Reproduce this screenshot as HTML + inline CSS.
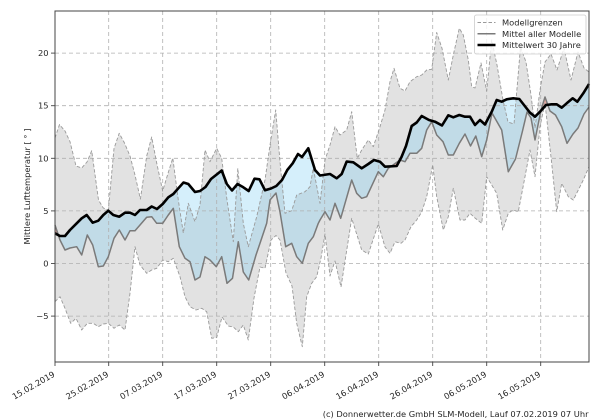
<!DOCTYPE html>
<html><head><meta charset="utf-8"><style>
html,body{margin:0;padding:0;background:#fff;}
svg{display:block;}
text{font-family:"DejaVu Sans","Liberation Sans",sans-serif;fill:#262626;}
</style></head><body>
<svg width="600" height="420" viewBox="0 0 600 420" xmlns="http://www.w3.org/2000/svg">
<defs>
<clipPath id="below"><polygon points="55,233.3 60,236 65,236 70,230 76.7,223.3 81.7,218.3 86.7,215 92.7,222.7 98.3,220.7 103.3,215 108.3,210.7 113.3,215 119.3,216.7 125,212.7 130,212.7 135,215 140,210 146.7,210 151.7,206.5 157,209 162.7,204 168.3,197.3 173.3,194 178.3,188.3 183.5,182.5 188.3,184 195,192 200,191 205.5,187 211,179 216.7,174.5 221.7,170.5 226.8,184 232,190.5 237.5,184 243.3,187.3 248.7,191 254.5,178.7 259.5,179.3 265,190.3 271,188.5 276.3,186 282,180 287.3,170 292.7,163.3 298,154 302,157 308.3,148.3 315,170 320,175.5 330,174 336.7,178.3 341.7,174 346.7,161.5 353.3,162.3 361.7,168.3 368.3,164 374,160 380,161.7 385,166.7 396.7,166 401.5,157 406,146 411.7,126 416.7,122.5 421.7,116 429,120 435,121.7 442,125.5 448.3,115.3 453.3,117.3 459.3,115 465,116.7 470,116.7 475,125 480,120 485,124.5 491.7,111.7 496.7,100 501.7,101.7 506.7,99.3 513.3,98.3 519.3,99 524,105 530,112.7 535,116.7 540,111.7 546,105 551.7,104.3 556.7,104.3 561.7,107.7 566.7,103.3 572.7,98.3 577.3,101.7 583.3,93.3 589,84 589,420 55,420"/></clipPath>
<clipPath id="above"><polygon points="55,233.3 60,236 65,236 70,230 76.7,223.3 81.7,218.3 86.7,215 92.7,222.7 98.3,220.7 103.3,215 108.3,210.7 113.3,215 119.3,216.7 125,212.7 130,212.7 135,215 140,210 146.7,210 151.7,206.5 157,209 162.7,204 168.3,197.3 173.3,194 178.3,188.3 183.5,182.5 188.3,184 195,192 200,191 205.5,187 211,179 216.7,174.5 221.7,170.5 226.8,184 232,190.5 237.5,184 243.3,187.3 248.7,191 254.5,178.7 259.5,179.3 265,190.3 271,188.5 276.3,186 282,180 287.3,170 292.7,163.3 298,154 302,157 308.3,148.3 315,170 320,175.5 330,174 336.7,178.3 341.7,174 346.7,161.5 353.3,162.3 361.7,168.3 368.3,164 374,160 380,161.7 385,166.7 396.7,166 401.5,157 406,146 411.7,126 416.7,122.5 421.7,116 429,120 435,121.7 442,125.5 448.3,115.3 453.3,117.3 459.3,115 465,116.7 470,116.7 475,125 480,120 485,124.5 491.7,111.7 496.7,100 501.7,101.7 506.7,99.3 513.3,98.3 519.3,99 524,105 530,112.7 535,116.7 540,111.7 546,105 551.7,104.3 556.7,104.3 561.7,107.7 566.7,103.3 572.7,98.3 577.3,101.7 583.3,93.3 589,84 589,0 55,0"/></clipPath>
<polygon id="bp" fill-rule="nonzero" points="55,233.3 60,236 65,236 70,230 76.7,223.3 81.7,218.3 86.7,215 92.7,222.7 98.3,220.7 103.3,215 108.3,210.7 113.3,215 119.3,216.7 125,212.7 130,212.7 135,215 140,210 146.7,210 151.7,206.5 157,209 162.7,204 168.3,197.3 173.3,194 178.3,188.3 183.5,182.5 188.3,184 195,192 200,191 205.5,187 211,179 216.7,174.5 221.7,170.5 226.8,184 232,190.5 237.5,184 243.3,187.3 248.7,191 254.5,178.7 259.5,179.3 265,190.3 271,188.5 276.3,186 282,180 287.3,170 292.7,163.3 298,154 302,157 308.3,148.3 315,170 320,175.5 330,174 336.7,178.3 341.7,174 346.7,161.5 353.3,162.3 361.7,168.3 368.3,164 374,160 380,161.7 385,166.7 396.7,166 401.5,157 406,146 411.7,126 416.7,122.5 421.7,116 429,120 435,121.7 442,125.5 448.3,115.3 453.3,117.3 459.3,115 465,116.7 470,116.7 475,125 480,120 485,124.5 491.7,111.7 496.7,100 501.7,101.7 506.7,99.3 513.3,98.3 519.3,99 524,105 530,112.7 535,116.7 540,111.7 546,105 551.7,104.3 556.7,104.3 561.7,107.7 566.7,103.3 572.7,98.3 577.3,101.7 583.3,93.3 589,84
589,107 584,114 578,128 573,134 567,143.3 561.7,126.7 555.5,115 550,111 545,97 541,110 535,140 531,118 527,112 522.5,131 515.5,159 508.3,171.7 501.7,130 492,113 486.7,140 481.7,156.7 475.8,136 470.5,146 465,134 459.3,143.3 453.3,155 448.3,155 443,141.7 436.7,135 431.7,121.7 426.7,130 421.7,148.3 416.7,153.3 410,153.3 405,161.7 400,160 388.3,168.3 383.3,176.7 378.3,171.7 366.7,196.7 361.7,198.3 356.7,193.3 351.7,180 340.7,218.3 335,203.3 330,220 325,211.7 320,220 318.3,223.3 313.3,236.7 308.3,243.3 302.3,263.3 296.7,256.7 291.7,243.3 285.7,246.7 280,212 276,193 270,200 266.7,223.3 260,243.3 256,255 248.7,280 243.3,272 238.3,241.7 232.5,278.3 227,283.3 221.7,256.7 216.3,266.7 210,260 205,256.7 200,277 195,280 190,261.7 185,258.3 179.3,246.7 173.3,208.3 168.3,215 162.7,223.3 156.7,223.3 151.7,216.7 146.7,217.3 140,225 135,230.7 130,230.7 125,240 119.3,230 114,238.3 108.3,256.7 103.3,266 98.3,266.7 92.7,245 87.3,235 81.7,255 76.7,246.7 70,248 65,250 60,240 55,225"/>
</defs>

<!-- grey model range -->
<polygon fill="#e2e2e2" points="55,138 59.5,124.5 65,131 70,141.7 76,166 81.7,168 87,162 91.7,150.7 98.5,200 103.3,208 108.3,210 114,148.5 119.2,133.3 124.5,143 130,156 135,175 140.4,199 146.7,156 151.7,137 156.7,163 162.7,191 167.5,175 172.8,158 178.3,200 183.3,233 188.3,203.3 195,221.7 200,205 205,150 210,161.7 216.7,148.3 221.7,158.3 227,200 233.3,241.7 237.8,168.3 243.3,223.3 248.3,246.7 256.7,216.7 265,180 270,145 275.7,110 280,161.7 285,213.3 291.7,210.7 296.7,195 305,191.7 310,186.7 313.3,168.3 320,203.3 325,160 330,145 335,126.7 340,135 346.7,130 351.7,111.7 357.3,158.3 361.7,150 368.3,140 373.3,146.7 380,126.7 385,110 390,81.7 394,68.3 400,88.3 405,91 410,81.7 416.7,76.7 421.7,75 426.7,70 431.7,69.3 436.7,32.5 442,48.3 448.3,80 453.3,55 459.3,28.3 463.3,35 468.3,60 471.7,86.7 475,88 481,63 486.7,91 491.7,40 497,65 503,100 508,122 514,124 520.5,47 526,62 531,95 535,128 540,90 545,62 551,54 557,70 564,48 571,80 578,52 584,68 589,72
589,166.7 583.3,180 578.3,190 573.3,200 568.3,196.7 561.7,183.3 556.7,211.7 551.7,163.3 545,103 540,126.7 535,176.7 530,150 525,176.7 518.3,211.7 513,210 508.3,213.3 502.7,230 496.7,193.3 486.7,176.7 481.7,223.3 475,218 470,213.3 465,220 460,220 453.3,188.3 448.3,216.7 443.3,230 436.7,196.7 432.7,165 426.7,196.7 421.7,212 416.7,220 411,226.7 405,240 401,243.3 395,241.7 390,253.3 385,247 378.3,224 368.3,254 361.7,250 351.7,218.3 341,287 335,261 330,276 325,234 321,258 316.7,276.7 311.7,283.3 306.7,296.7 302.3,346.7 296.7,323.3 292,286 286,273 280,240 276,235.5 271,240 265,268.3 260,267 254,298 248.3,340 243.3,325 238.3,331.7 233.3,327 228.3,326 222,317 216.7,337.5 211.7,338.3 206.7,311.7 201.7,308.3 196,310 190,306.7 185,296.7 180,276.7 173.3,258.3 168.3,261.7 162.7,260 156.7,268.3 151.7,270 146.7,273.3 140,265 135,246.7 130,293.3 125,330 119.3,325 114,328.3 108.3,323.3 103.3,324 98.3,326.7 93.3,323.3 87.3,323.3 81.7,330 76,318.3 70.7,323.3 65,308.3 60,296.7 55,301.7"/>

<!-- between mean and climatology -->
<g clip-path="url(#below)"><use href="#bp" fill="rgb(115,202,242)" fill-opacity="0.3"/></g>
<g clip-path="url(#above)"><use href="#bp" fill="rgb(235,100,80)" fill-opacity="0.45"/></g>

<!-- grid -->
<g stroke="#b0b0b0" stroke-width="0.8" stroke-dasharray="4,3" fill="none">
<line x1="108.7" y1="11" x2="108.7" y2="362"/>
<line x1="162.7" y1="11" x2="162.7" y2="362"/>
<line x1="216.7" y1="11" x2="216.7" y2="362"/>
<line x1="270.7" y1="11" x2="270.7" y2="362"/>
<line x1="324.7" y1="11" x2="324.7" y2="362"/>
<line x1="378.7" y1="11" x2="378.7" y2="362"/>
<line x1="432.7" y1="11" x2="432.7" y2="362"/>
<line x1="486.7" y1="11" x2="486.7" y2="362"/>
<line x1="540.7" y1="11" x2="540.7" y2="362"/>
<line x1="55" y1="316.1" x2="589" y2="316.1"/>
<line x1="55" y1="263.5" x2="589" y2="263.5"/>
<line x1="55" y1="210.9" x2="589" y2="210.9"/>
<line x1="55" y1="158.3" x2="589" y2="158.3"/>
<line x1="55" y1="105.7" x2="589" y2="105.7"/>
<line x1="55" y1="53.1" x2="589" y2="53.1"/>
</g>

<!-- max / min dashed -->
<g fill="none" stroke="#9a9a9a" stroke-width="0.9" stroke-dasharray="3.5,2" stroke-linejoin="round">
<polyline points="55,138 59.5,124.5 65,131 70,141.7 76,166 81.7,168 87,162 91.7,150.7 98.5,200 103.3,208 108.3,210 114,148.5 119.2,133.3 124.5,143 130,156 135,175 140.4,199 146.7,156 151.7,137 156.7,163 162.7,191 167.5,175 172.8,158 178.3,200 183.3,233 188.3,203.3 195,221.7 200,205 205,150 210,161.7 216.7,148.3 221.7,158.3 227,200 233.3,241.7 237.8,168.3 243.3,223.3 248.3,246.7 256.7,216.7 265,180 270,145 275.7,110 280,161.7 285,213.3 291.7,210.7 296.7,195 305,191.7 310,186.7 313.3,168.3 320,203.3 325,160 330,145 335,126.7 340,135 346.7,130 351.7,111.7 357.3,158.3 361.7,150 368.3,140 373.3,146.7 380,126.7 385,110 390,81.7 394,68.3 400,88.3 405,91 410,81.7 416.7,76.7 421.7,75 426.7,70 431.7,69.3 436.7,32.5 442,48.3 448.3,80 453.3,55 459.3,28.3 463.3,35 468.3,60 471.7,86.7 475,88 481,63 486.7,91 491.7,40 497,65 503,100 508,122 514,124 520.5,47 526,62 531,95 535,128 540,90 545,62 551,54 557,70 564,48 571,80 578,52 584,68 589,72"/>
<polyline points="55,301.7 60,296.7 65,308.3 70.7,323.3 76,318.3 81.7,330 87.3,323.3 93.3,323.3 98.3,326.7 103.3,324 108.3,323.3 114,328.3 119.3,325 125,330 130,293.3 135,246.7 140,265 146.7,273.3 151.7,270 156.7,268.3 162.7,260 168.3,261.7 173.3,258.3 180,276.7 185,296.7 190,306.7 196,310 201.7,308.3 206.7,311.7 211.7,338.3 216.7,337.5 222,317 228.3,326 233.3,327 238.3,331.7 243.3,325 248.3,340 254,298 260,267 265,268.3 271,240 276,235.5 280,240 286,273 292,286 296.7,323.3 302.3,346.7 306.7,296.7 311.7,283.3 316.7,276.7 321,258 325,234 330,276 335,261 341,287 351.7,218.3 361.7,250 368.3,254 378.3,224 385,247 390,253.3 395,241.7 401,243.3 405,240 411,226.7 416.7,220 421.7,212 426.7,196.7 432.7,165 436.7,196.7 443.3,230 448.3,216.7 453.3,188.3 460,220 465,220 470,213.3 475,218 481.7,223.3 486.7,176.7 496.7,193.3 502.7,230 508.3,213.3 513,210 518.3,211.7 525,176.7 530,150 535,176.7 540,126.7 545,103 551.7,163.3 556.7,211.7 561.7,183.3 568.3,196.7 573.3,200 578.3,190 583.3,180 589,166.7"/>
</g>

<!-- mean of models -->
<polyline fill="none" stroke="#7a7a7a" stroke-width="1.5" stroke-linejoin="round" points="55,225 60,240 65,250 70,248 76.7,246.7 81.7,255 87.3,235 92.7,245 98.3,266.7 103.3,266 108.3,256.7 114,238.3 119.3,230 125,240 130,230.7 135,230.7 140,225 146.7,217.3 151.7,216.7 156.7,223.3 162.7,223.3 168.3,215 173.3,208.3 179.3,246.7 185,258.3 190,261.7 195,280 200,277 205,256.7 210,260 216.3,266.7 221.7,256.7 227,283.3 232.5,278.3 238.3,241.7 243.3,272 248.7,280 256,255 260,243.3 266.7,223.3 270,200 276,193 280,212 285.7,246.7 291.7,243.3 296.7,256.7 302.3,263.3 308.3,243.3 313.3,236.7 318.3,223.3 320,220 325,211.7 330,220 335,203.3 340.7,218.3 351.7,180 356.7,193.3 361.7,198.3 366.7,196.7 378.3,171.7 383.3,176.7 388.3,168.3 400,160 405,161.7 410,153.3 416.7,153.3 421.7,148.3 426.7,130 431.7,121.7 436.7,135 443,141.7 448.3,155 453.3,155 459.3,143.3 465,134 470.5,146 475.8,136 481.7,156.7 486.7,140 492,113 501.7,130 508.3,171.7 515.5,159 522.5,131 527,112 531,118 535,140 541,110 545,97 550,111 555.5,115 561.7,126.7 567,143.3 573,134 578,128 584,114 589,107"/>

<!-- 30-year mean -->
<polyline fill="none" stroke="#000" stroke-width="2.6" stroke-linejoin="round" points="55,233.3 60,236 65,236 70,230 76.7,223.3 81.7,218.3 86.7,215 92.7,222.7 98.3,220.7 103.3,215 108.3,210.7 113.3,215 119.3,216.7 125,212.7 130,212.7 135,215 140,210 146.7,210 151.7,206.5 157,209 162.7,204 168.3,197.3 173.3,194 178.3,188.3 183.5,182.5 188.3,184 195,192 200,191 205.5,187 211,179 216.7,174.5 221.7,170.5 226.8,184 232,190.5 237.5,184 243.3,187.3 248.7,191 254.5,178.7 259.5,179.3 265,190.3 271,188.5 276.3,186 282,180 287.3,170 292.7,163.3 298,154 302,157 308.3,148.3 315,170 320,175.5 330,174 336.7,178.3 341.7,174 346.7,161.5 353.3,162.3 361.7,168.3 368.3,164 374,160 380,161.7 385,166.7 396.7,166 401.5,157 406,146 411.7,126 416.7,122.5 421.7,116 429,120 435,121.7 442,125.5 448.3,115.3 453.3,117.3 459.3,115 465,116.7 470,116.7 475,125 480,120 485,124.5 491.7,111.7 496.7,100 501.7,101.7 506.7,99.3 513.3,98.3 519.3,99 524,105 530,112.7 535,116.7 540,111.7 546,105 551.7,104.3 556.7,104.3 561.7,107.7 566.7,103.3 572.7,98.3 577.3,101.7 583.3,93.3 589,84"/>

<!-- spines -->
<rect x="55" y="11" width="534" height="351" fill="none" stroke="#444" stroke-width="1"/>

<!-- ticks -->
<g stroke="#444" stroke-width="0.9">
<line x1="51" y1="316.1" x2="55" y2="316.1"/>
<line x1="51" y1="263.5" x2="55" y2="263.5"/>
<line x1="51" y1="210.9" x2="55" y2="210.9"/>
<line x1="51" y1="158.3" x2="55" y2="158.3"/>
<line x1="51" y1="105.7" x2="55" y2="105.7"/>
<line x1="51" y1="53.1" x2="55" y2="53.1"/>
<line x1="55" y1="362" x2="55" y2="366"/>
<line x1="108.7" y1="362" x2="108.7" y2="366"/>
<line x1="162.7" y1="362" x2="162.7" y2="366"/>
<line x1="216.7" y1="362" x2="216.7" y2="366"/>
<line x1="270.7" y1="362" x2="270.7" y2="366"/>
<line x1="324.7" y1="362" x2="324.7" y2="366"/>
<line x1="378.7" y1="362" x2="378.7" y2="366"/>
<line x1="432.7" y1="362" x2="432.7" y2="366"/>
<line x1="486.7" y1="362" x2="486.7" y2="366"/>
<line x1="540.7" y1="362" x2="540.7" y2="366"/>
</g>

<!-- y tick labels -->
<g font-size="8.3" text-anchor="end">
<text x="48.5" y="319">−5</text>
<text x="48.5" y="266.5">0</text>
<text x="48.5" y="213.9">5</text>
<text x="48.5" y="161.3">10</text>
<text x="48.5" y="108.7">15</text>
<text x="48.5" y="56.1">20</text>
</g>

<!-- x tick labels -->
<g font-size="8.3" text-anchor="end">
<text transform="translate(55.5,376) rotate(-30)">15.02.2019</text>
<text transform="translate(109.2,376) rotate(-30)">25.02.2019</text>
<text transform="translate(163.2,376) rotate(-30)">07.03.2019</text>
<text transform="translate(217.2,376) rotate(-30)">17.03.2019</text>
<text transform="translate(271.2,376) rotate(-30)">27.03.2019</text>
<text transform="translate(325.2,376) rotate(-30)">06.04.2019</text>
<text transform="translate(379.2,376) rotate(-30)">16.04.2019</text>
<text transform="translate(433.2,376) rotate(-30)">26.04.2019</text>
<text transform="translate(487.2,376) rotate(-30)">06.05.2019</text>
<text transform="translate(541.2,376) rotate(-30)">16.05.2019</text>
</g>

<!-- y axis label -->
<text font-size="8.3" text-anchor="middle" transform="translate(30,186.5) rotate(-90)">Mittlere Lufttemperatur [ ° ]</text>

<!-- legend -->
<rect x="474.5" y="15" width="111.5" height="39" rx="2" ry="2" fill="#fff" fill-opacity="0.8" stroke="#cccccc" stroke-width="0.8"/>
<line x1="477.5" y1="22.5" x2="495.5" y2="22.5" stroke="#9a9a9a" stroke-width="0.9" stroke-dasharray="3.5,2"/>
<line x1="477.5" y1="33.8" x2="495.5" y2="33.8" stroke="#7a7a7a" stroke-width="1.5"/>
<line x1="477.5" y1="45" x2="495.5" y2="45" stroke="#000" stroke-width="2.6"/>
<g font-size="8.3">
<text x="502" y="25.5">Modellgrenzen</text>
<text x="502" y="36.8">Mittel aller Modelle</text>
<text x="502" y="48">Mittelwert 30 Jahre</text>
</g>

<!-- credit -->
<text font-size="8.3" text-anchor="end" x="588.5" y="417">(c) Donnerwetter.de GmbH SLM-Modell, Lauf 07.02.2019 07 Uhr</text>
</svg>
</body></html>
